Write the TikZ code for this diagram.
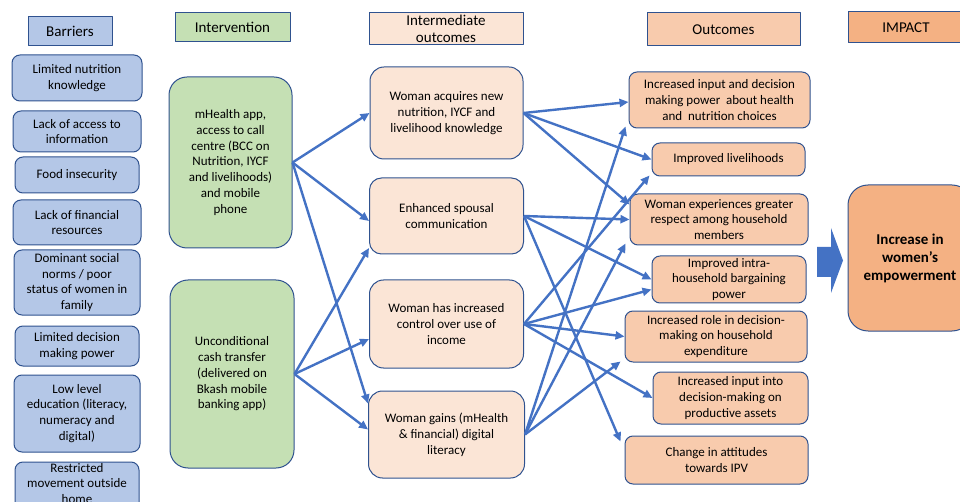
\documentclass[tikz,border=0pt]{standalone}
\usepackage{fontspec}
\setmainfont{Carlito}
\usetikzlibrary{arrows.meta,calc,positioning}
\definecolor{barFill}{HTML}{B4C7E7}
\definecolor{intFill}{HTML}{C5E0B4}
\definecolor{midFill}{HTML}{FBE5D6}
\definecolor{outFill}{HTML}{F8CBAD}
\definecolor{impFill}{HTML}{F4B183}
\definecolor{edgeBlue}{HTML}{2F528F}
\definecolor{arrowBlue}{HTML}{4472C4}

\begin{document}
\begin{tikzpicture}[
  x=1pt, y=-1pt,
  >={Triangle[length=9pt,width=8pt]},
  line join=round,
  every node/.style={font=\fontsize{13}{15.8}\selectfont},
  hdr/.style={draw=edgeBlue, line width=1pt, align=center, inner sep=0pt, font=\fontsize{15}{17}\selectfont},
  box/.style={draw=edgeBlue, line width=1pt, rounded corners=8pt, align=center, inner sep=0pt},
  bigbox/.style={box, rounded corners=18pt},
  arrow/.style={->, draw=arrowBlue, line width=2.4pt}
]
  \useasboundingbox (0,0) rectangle (960,502);

  % column headers
  \node[hdr, fill=barFill, minimum width=84pt, minimum height=29pt] (barHdr) at (70,31.5) {Barriers};
  \node[hdr, fill=intFill, minimum width=115pt, minimum height=29pt] (intHdr) at (232.5,27.5) {Intervention};
  \node[hdr, fill=midFill, minimum width=154pt, minimum height=32pt] (midHdr) at (446,29) {Intermediate\\outcomes};
  \node[hdr, fill=outFill, minimum width=153pt, minimum height=33pt] (outHdr) at (723.5,29.5) {Outcomes};
  \node[hdr, fill=impFill, minimum width=116pt, minimum height=31pt] (impHdr) at (906,27.5) {IMPACT};

  % barriers
  \node[box, fill=barFill, minimum width=130pt, minimum height=46pt] (bar1) at (77,78) {Limited nutrition\\knowledge};
  \node[box, fill=barFill, minimum width=128pt, minimum height=41pt, below=9pt of bar1] (bar2) {Lack of access to\\information};
  \node[box, fill=barFill, minimum width=124pt, minimum height=36pt, below=4pt of bar2] (bar3) {Food insecurity};
  \node[box, fill=barFill, minimum width=128pt, minimum height=45pt, below=6pt of bar3] (bar4) {Lack of financial\\resources};
  \node[box, fill=barFill, minimum width=126pt, minimum height=65pt, below=4pt of bar4] (bar5) {Dominant social\\norms / poor\\status of women in\\family};
  \node[box, fill=barFill, minimum width=124pt, minimum height=40pt, below=10pt of bar5] (bar6) {Limited decision\\making power};
  \node[box, fill=barFill, minimum width=126pt, minimum height=77pt, below=8pt of bar6] (bar7) {Low level\\education (literacy,\\numeracy and\\digital)};
  % runs off the bottom edge, as in the source figure
  \node[box, fill=barFill, minimum width=124pt, inner ysep=1pt, text depth=12pt, below=9pt of bar7] (bar8) {Restricted\\movement outside\\home};

  % intervention
  \node[bigbox, fill=intFill, minimum width=123pt, minimum height=171pt] (mHealth) at (230.5,162.5) {mHealth app,\\access to call\\centre (BCC on\\Nutrition, IYCF\\and livelihoods)\\and mobile\\phone};
  \node[bigbox, fill=intFill, minimum width=124pt, minimum height=188pt] (cash) at (232,374) {Unconditional\\cash transfer\\(delivered on\\Bkash mobile\\banking app)};

  % intermediate outcomes
  \node[box, rounded corners=14pt, fill=midFill, minimum width=153pt, minimum height=92pt] (io1) at (446.5,113) {Woman acquires new\\nutrition, IYCF and\\livelihood knowledge};
  \node[box, rounded corners=12pt, fill=midFill, minimum width=154pt, minimum height=76pt, below=18pt of io1] (io2) {Enhanced spousal\\communication};
  \node[box, rounded corners=14pt, fill=midFill, minimum width=154pt, minimum height=88pt, below=25pt of io2] (io3) {Woman has increased\\control over use of\\income};
  \node[box, rounded corners=14pt, fill=midFill, minimum width=156pt, minimum height=87pt, below=22pt of io3] (io4) {Woman gains (mHealth\\\& financial) digital\\literacy};

  % outcomes
  \node[box, fill=outFill, minimum width=181pt, minimum height=56pt] (out1) at (719.5,100) {Increased input and decision\\making power~ about health\\and~ nutrition choices};
  \node[box, fill=outFill, minimum width=153pt, minimum height=33pt] (out2) at (728.5,159.5) {Improved livelihoods};
  \node[box, fill=outFill, minimum width=178pt, minimum height=51pt] (out3) at (719,219.5) {Woman experiences greater\\respect among household\\members};
  \node[box, fill=outFill, minimum width=154pt, minimum height=47pt] (out4) at (729,279.5) {Improved intra-\\household bargaining\\power};
  \node[box, fill=outFill, minimum width=182pt, minimum height=51pt] (out5) at (716,336.5) {Increased role in decision-\\making on household\\expenditure};
  \node[box, fill=outFill, minimum width=155pt, minimum height=52pt] (out6) at (730.5,398) {Increased input into\\decision-making on\\productive assets};
  \node[box, fill=outFill, minimum width=183pt, minimum height=48pt] (out7) at (716.5,460) {Change in attitudes\\towards IPV};

  % impact
  \node[bigbox, rounded corners=20pt, fill=impFill, minimum width=124pt, minimum height=146pt, font=\bfseries\fontsize{15}{18}\selectfont] (impact) at (910,258) {Increase in\\women's\\empowerment};
  \fill[arrowBlue] (817,247) -- (831,247) -- (831,228) -- (843,260.5) -- (831,293) -- (831,277) -- (817,277) -- cycle;

  % intervention -> intermediate
  \draw[arrow] (mHealth.east) -- (io1.west);
  \draw[arrow] (mHealth.east) -- ($(io2.west)+(0,5)$);
  \draw[arrow] (mHealth.east) -- ($(io4.west)+(0,-31)$);
  \draw[arrow] (cash.east) -- ($(io2.west)+(0,32)$);
  \draw[arrow] (cash.east) -- ($(io3.west)+(0,15)$);
  \draw[arrow] (cash.east) -- ($(io4.west)+(0,-5)$);

  % intermediate -> outcomes
  \draw[arrow] (io1.east) -- ($(out1.west)+(0,2)$);
  \draw[arrow] (io1.east) -- (out2.west);
  \draw[arrow] (io1.east) -- ($(out3.west)+(0,-15)$);
  \draw[arrow] (io2.east) -- (out3.west);
  \draw[arrow] (io2.east) -- (out4.west);
  \draw[arrow] (io2.east) -- ($(out7.north west)+(-4,6)$);
  \draw[arrow] (io3.east) -- ($(out2.south west)+(-2,-1)$);
  \draw[arrow] (io3.east) -- ($(out4.west)+(0,10)$);
  \draw[arrow] (io3.east) -- (out5.west);
  \draw[arrow] (io3.east) -- (out6.west);
  \draw[arrow] (io4.east) -- ($(out1.south west)+(-3,-2)$);
  \draw[arrow] (io4.east) -- ($(out3.south west)+(-4,-2)$);
  \draw[arrow] (io4.east) -- ($(out5.south west)+(-4,-1)$);
\end{tikzpicture}
\end{document}
